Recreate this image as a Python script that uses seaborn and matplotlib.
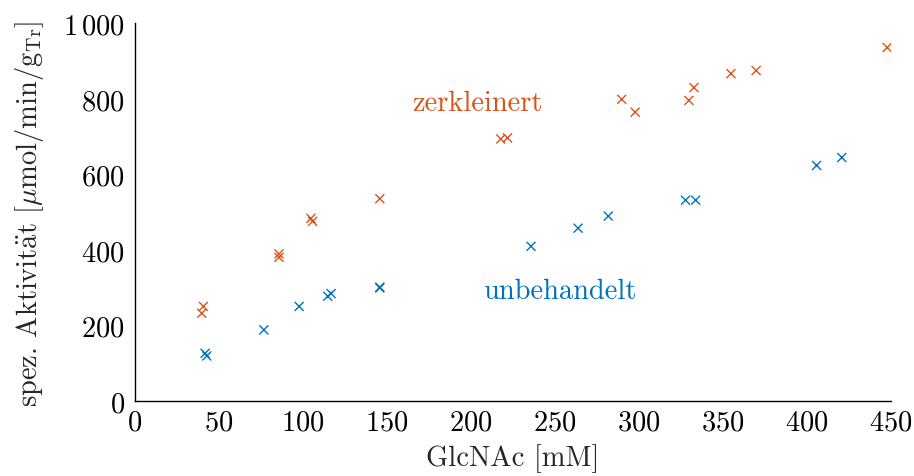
import matplotlib
matplotlib.use("Agg")
import matplotlib.pyplot as plt
from matplotlib.ticker import FuncFormatter, MultipleLocator
import numpy as np
import pandas as pd
import seaborn as sns

# GlcNAc concentration [mM] and specific activity
zerkleinert_x = [40, 41, 86, 86, 105, 106, 146, 218, 222, 290, 298, 330, 333, 355, 370, 448]
zerkleinert_y = [233, 251, 381, 390, 484, 476, 536, 694, 697, 799, 765, 796, 830, 867, 875, 936]
unbehandelt_x = [42, 43, 77, 98, 115, 117, 146, 146, 236, 264, 282, 328, 334, 406, 421]
unbehandelt_y = [127, 120, 189, 251, 278, 285, 300, 302, 410, 458, 490, 532, 532, 624, 645]

col_zerkleinert = "#D95319"
col_unbehandelt = "#0072BD"

df = pd.concat([
    pd.DataFrame({"GlcNAc": zerkleinert_x, "Aktivitaet": zerkleinert_y, "Probe": "zerkleinert"}),
    pd.DataFrame({"GlcNAc": unbehandelt_x, "Aktivitaet": unbehandelt_y, "Probe": "unbehandelt"}),
], ignore_index=True)

sns.set_theme(style="white")
fs = 20.5
plt.rcParams.update({
    "font.family": ["cmr10", "DejaVu Serif"],
    "mathtext.fontset": "cm",
    "axes.unicode_minus": False,
    "axes.formatter.use_mathtext": True,
    "font.size": fs,
})

fig = plt.figure(figsize=(9.14, 4.77), dpi=100)
ax = fig.add_axes([0.1472, 0.1566, 0.8271, 0.7924])

sns.scatterplot(data=df, x="GlcNAc", y="Aktivitaet", hue="Probe",
                palette={"zerkleinert": col_zerkleinert, "unbehandelt": col_unbehandelt},
                marker="x", s=42, linewidth=1.0, legend=False, ax=ax)

ax.set_xlim(0, 450)
ax.set_ylim(0, 1000)
ax.xaxis.set_major_locator(MultipleLocator(50))
ax.yaxis.set_major_locator(MultipleLocator(200))

def yfmt(v, pos):
    v = int(round(v))
    if v >= 1000:
        return r"$%d\,%03d$" % (v // 1000, v % 1000)
    return r"$%d$" % v

ax.yaxis.set_major_formatter(FuncFormatter(yfmt))
ax.xaxis.set_major_formatter(FuncFormatter(lambda v, p: r"$%d$" % int(round(v))))

for side in ["top", "right"]:
    ax.spines[side].set_visible(False)
for side in ["left", "bottom"]:
    ax.spines[side].set_color("black")
    ax.spines[side].set_linewidth(1.0)

ax.tick_params(axis="both", direction="in", length=8, width=0.9, color="#9a9a9a",
               labelsize=fs, labelcolor="black")
ax.tick_params(axis="x", pad=6)
ax.tick_params(axis="y", pad=7)

ax.set_xlabel("GlcNAc [mM]", fontsize=fs, labelpad=5)
ax.set_ylabel(r"spez. Aktivit$\ddot{\mathrm{a}}$t [$\mu$mol/min/g$_{\mathrm{Tr}}$]", fontsize=fs, labelpad=12)

ax.text(204, 790, "zerkleinert", color=col_zerkleinert, fontsize=fs, ha="center", va="center")
ax.text(253, 292, "unbehandelt", color=col_unbehandelt, fontsize=fs, ha="center", va="center")

fig.savefig("out.png", dpi=100)
